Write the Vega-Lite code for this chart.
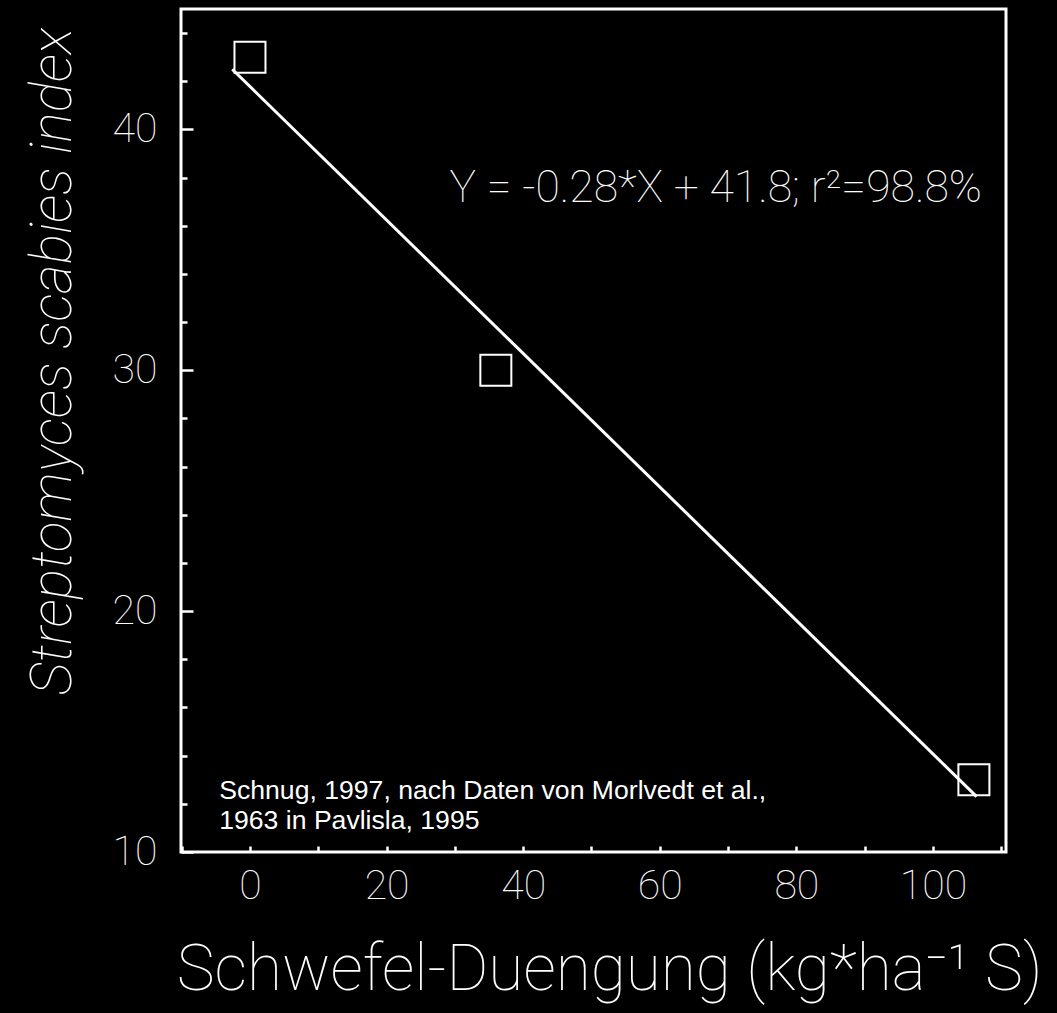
{
  "$schema": "https://vega.github.io/schema/vega-lite/v6.json",
  "autosize": {"type": "none"},
  "padding": {"left": 181, "top": 9, "right": 51, "bottom": 161},
  "width": 825,
  "height": 843,
  "background": "black",
  "config": {
    "view": {"stroke": "white", "strokeWidth": 3},
    "axis": {
      "domain": false,
      "grid": false,
      "tickColor": "white",
      "tickWidth": 2.5,
      "labelColor": "white",
      "titleColor": "white",
      "labelFont": "Roboto",
      "labelFontWeight": 100,
      "titleFont": "Roboto",
      "titleFontWeight": 100
    }
  },
  "datasets": {
    "points": [
      {"x": 0, "y": 43},
      {"x": 36, "y": 30},
      {"x": 106, "y": 13}
    ],
    "fit": [
      {"x": -2.6, "y": 42.5},
      {"x": 106.4, "y": 12.3}
    ],
    "notes": [
      {"x": 68.2, "y": 37.0, "text": "Y = -0.28*X + 41.8; r²=98.8%"}
    ],
    "source": [
      {"x": -4.5, "y": 12.2, "text": "Schnug, 1997, nach Daten von Morlvedt et al.,"},
      {"x": -4.5, "y": 10.95, "text": "1963 in Pavlisla, 1995"}
    ]
  },
  "layer": [
    {
      "data": {"name": "fit"},
      "mark": {"type": "line", "color": "white", "strokeWidth": 3},
      "encoding": {
        "x": {
          "field": "x", "type": "quantitative",
          "scale": {"domain": [-10.1, 110.7], "nice": false, "zero": false},
          "axis": {
            "values": [-10, 0, 10, 20, 30, 40, 50, 60, 70, 80, 90, 100, 110],
            "labelExpr": "datum.value % 20 === 0 && datum.value >= 0 && datum.value <= 100 ? datum.label : ''",
            "tickSize": -6,
            "labelPadding": 20,
            "labelFontSize": 41,
            "title": "Schwefel-Duengung (kg*ha⁻¹ S)",
            "titleFontSize": 64,
            "titleX": 428,
            "titleY": 118,
            "titleAlign": "center",
            "titleBaseline": "middle"
          }
        },
        "y": {
          "field": "y", "type": "quantitative",
          "scale": {"domain": [10, 45], "nice": false, "zero": false},
          "axis": {
            "values": [10, 12, 14, 16, 18, 20, 22, 24, 26, 28, 30, 32, 34, 36, 38, 40, 42, 44],
            "labelExpr": "datum.value % 10 === 0 ? datum.label : ''",
            "tickSize": {"condition": {"test": "datum.value % 10 === 0", "value": -12}, "value": -6},
            "labelPadding": 36,
            "labelFontSize": 41,
            "title": "Streptomyces scabies index",
            "titleFontSize": 57,
            "titleFontStyle": "italic",
            "titleX": -128,
            "titleY": 352,
            "titleAngle": -90,
            "titleAlign": "center",
            "titleBaseline": "middle"
          }
        }
      }
    },
    {
      "data": {"name": "points"},
      "mark": {"type": "point", "shape": "square", "size": 961, "filled": false, "stroke": "white", "strokeWidth": 2, "opacity": 1},
      "encoding": {
        "x": {"field": "x", "type": "quantitative"},
        "y": {"field": "y", "type": "quantitative"}
      }
    },
    {
      "data": {"name": "notes"},
      "mark": {"type": "text", "color": "white", "font": "Roboto", "fontWeight": 100, "fontSize": 44.5, "align": "center", "baseline": "alphabetic"},
      "encoding": {
        "x": {"field": "x", "type": "quantitative"},
        "y": {"field": "y", "type": "quantitative"},
        "text": {"field": "text"}
      }
    },
    {
      "data": {"name": "source"},
      "mark": {"type": "text", "color": "white", "font": "Liberation Sans", "fontSize": 26.6, "align": "left", "baseline": "alphabetic"},
      "encoding": {
        "x": {"field": "x", "type": "quantitative"},
        "y": {"field": "y", "type": "quantitative"},
        "text": {"field": "text"}
      }
    }
  ]
}
